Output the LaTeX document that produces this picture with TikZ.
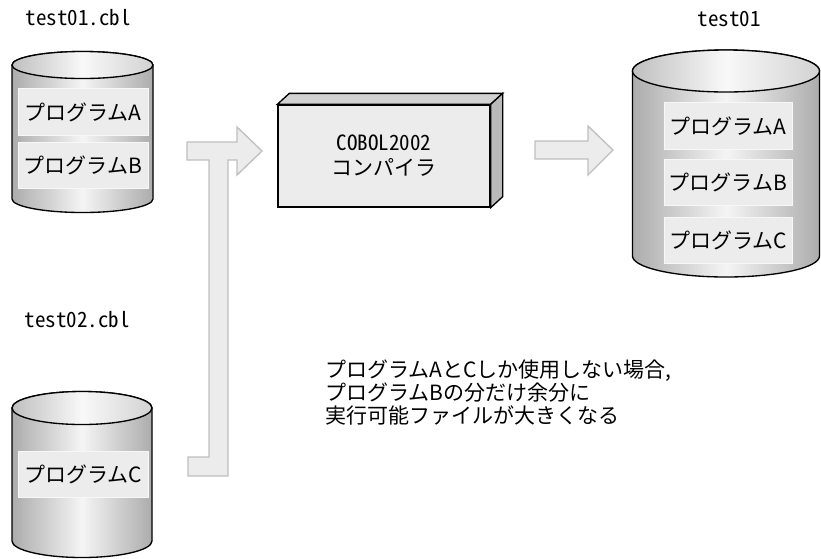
\documentclass[tikz,border=0pt]{standalone}
\usepackage{fontspec}
\setmainfont{Noto Sans CJK JP}
\newfontfamily\halfw{Noto Sans CJK JP}[RawFeature=+hwid]
\usepackage{tikz}
\usetikzlibrary{positioning}

\tikzset{
	prog/.style={fill=gray!15, draw=gray!6, line width=0.6pt, minimum width=97.5pt, minimum height=35pt, inner sep=0pt, font=\fontsize{15.75}{18}\selectfont},
	lbl/.style={font=\halfw\fontsize{15.75}{18}\selectfont, inner sep=0pt},
	flow/.style={fill=gray!15, draw=gray!50, line width=1pt, line join=miter},
	drum/.style={draw=black, line width=1pt, left color=gray!65, right color=gray!65, middle color=gray!8},
	drumtop/.style={draw=black, line width=1pt, left color=gray!50, right color=gray!35, middle color=gray!5},
	compbox/.style={draw=black, line width=1pt, fill=gray!15, minimum width=159pt, minimum height=76.5pt, align=center, inner sep=0pt, font=\fontsize{15.75}{18.75}\selectfont},
}

% cx, top, bottom, rx, ry
\newcommand{\drawdrum}[5]{%
	\draw[drum] (#1-#4,-#2) -- (#1-#4,-#3) arc[start angle=180, end angle=360, x radius=#4, y radius=#5] -- (#1+#4,-#2) arc[start angle=0, end angle=180, x radius=#4, y radius=#5] -- cycle;
	\draw[drumtop] (#1,-#2) ellipse[x radius=#4, y radius=#5];
}

\begin{document}
\begin{tikzpicture}[x=0.75pt, y=0.75pt]
	\useasboundingbox (0,0) rectangle (821,-558);
	
	\drawdrum{82.5}{65}{199}{70.5}{13.5}
	\drawdrum{82}{408}{541}{70}{16.5}
	\drawdrum{726}{71}{256}{93.5}{21}
	
	\node[lbl] (src1) at (78,-18) {test01.cbl};
	\node[lbl] (src2) at (77,-320) {test02.cbl};
	\node[lbl] (exe) at (729,-19) {test01};
	
	\node[prog] (srcA) at (83,-112) {プログラムA};
	\node[prog] (srcB) at (83,-165.5) {プログラムB};
	\node[prog] (srcC) at (83,-474.5) {プログラムC};
	
	\node[prog, minimum width=96pt] (exeA) at (728,-126) {プログラムA};
	\node[prog, minimum width=96pt] (exeB) at (728,-182.5) {プログラムB};
	\node[prog, minimum width=96pt] (exeC) at (728,-240.5) {プログラムC};
	
	\node[compbox] (comp) at (384,-156) {{\halfw COBOL2002}\\コンパイラ};
	\draw[line width=1pt, fill=gray!35] (comp.north west) -- ++(12,11) -- ([shift={(12,11)}]comp.north east) -- (comp.north east) -- cycle;
	\draw[line width=1pt, fill=gray!55] (comp.north east) -- ++(12,11) -- ([shift={(12,11)}]comp.south east) -- (comp.south east) -- cycle;
	
	% sources -> compiler
	\draw[flow] (187,-142) -- (237,-142) -- (237,-127) -- (262,-151) -- (237,-175) -- (237,-160) -- (228,-160) -- (228,-476) -- (188,-476) -- (188,-457) -- (209,-457) -- (209,-160) -- (187,-160) -- cycle;
	
	% compiler -> executable
	\draw[flow] (535,-141) -- (588,-141) -- (588,-126) -- (613,-150) -- (588,-175) -- (588,-159) -- (535,-159) -- cycle;
	
	\node[anchor=west, align=left, inner sep=0pt, font=\fontsize{15.75}{17.25}\selectfont] (note) at (325,-393) {プログラムAとCしか使用しない場合,\\プログラムBの分だけ余分に\\実行可能ファイルが大きくなる};
\end{tikzpicture}
\end{document}
